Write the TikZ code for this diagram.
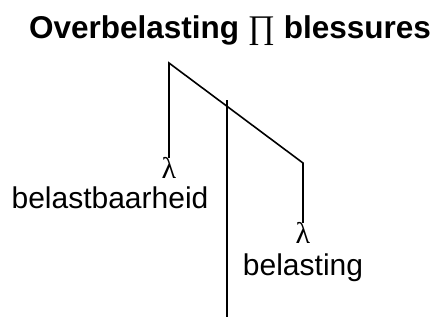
\documentclass[tikz,border=0pt]{standalone}
\usepackage{fontspec}
\setmainfont{Liberation Sans}
\newfontfamily\serifsym{Liberation Serif}
\begin{document}
\begin{tikzpicture}[x=1pt,y=-1pt,
  ln/.style={line width=1.6pt,line cap=rect},
  lbl/.style={font=\fontsize{30}{34}\selectfont,inner sep=0pt,anchor=base},
  ttl/.style={font=\fontsize{31.5}{35}\selectfont\bfseries,inner sep=0pt,anchor=base},
  lam/.style={font=\fontsize{30}{33}\selectfont\serifsym,inner sep=0pt,anchor=north}]
\useasboundingbox (0,0) rectangle (430,322);
\node[ttl] (title) at (230,38) {Overbelasting {\mdseries\serifsym\fontsize{33}{36}\selectfont ∏} blessures};
\coordinate (top) at (169,63);
\coordinate (corner) at (303,163);
\node[lam] (lamL) at (169,157) {λ};
\node[lam] (lamR) at (303,222) {λ};
\node[lbl] (bb) at (110,208) {belastbaarheid};
\node[lbl] (bl) at (303,275) {belasting};
\coordinate (vtop) at (227,100);
\coordinate (vbot) at (227,317);
\draw[ln] (lamL.north) -- (top) -- (corner) -- (lamR.north);
\draw[ln,line cap=butt] (vtop) -- (vbot);
\end{tikzpicture}
\end{document}
